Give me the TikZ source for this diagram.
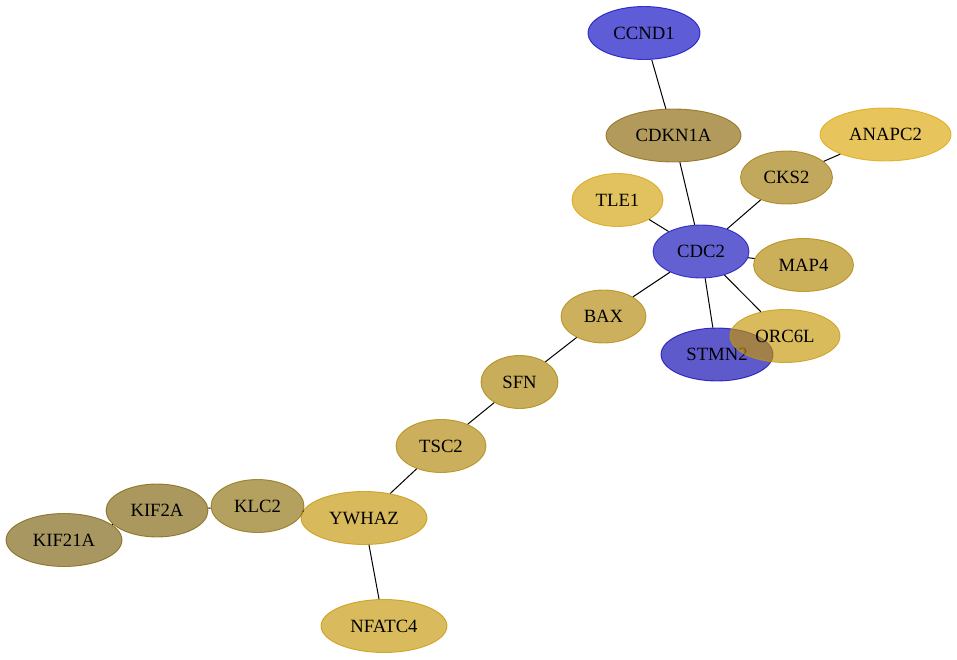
\documentclass[tikz,border=0pt]{standalone}
\usepackage{fontspec}
\setmainfont{Liberation Serif}
\usetikzlibrary{shapes.geometric}
\definecolor{ccnd}{RGB}{7,4,192}
\definecolor{cdc}{RGB}{16,13,186}
\definecolor{stmn}{RGB}{9,1,175}
\definecolor{cdkn}{RGB}{137,100,6}
\definecolor{anapc}{RGB}{220,164,4}
\definecolor{cks}{RGB}{160,121,6}
\definecolor{tle}{RGB}{210,161,9}
\definecolor{mapf}{RGB}{177,132,0}
\definecolor{orc}{RGB}{197,150,4}
\definecolor{bax}{RGB}{178,133,7}
\definecolor{sfn}{RGB}{170,129,1}
\definecolor{tsc}{RGB}{175,132,4}
\definecolor{ywhaz}{RGB}{195,147,4}
\definecolor{nfatc}{RGB}{197,149,4}
\definecolor{klc}{RGB}{140,109,9}
\definecolor{kifa}{RGB}{124,97,9}
\definecolor{kifb}{RGB}{121,95,10}
\begin{document}
\begin{tikzpicture}[x=1pt,y=-1pt]
  \tikzset{gene/.style 2 args={ellipse,inner sep=0pt,minimum height=53pt,minimum width=#2,
      fill=#1,draw=#1,fill opacity=0.65,draw opacity=0.75,text opacity=1,line width=0.9pt,
      font=\fontsize{18.7}{20}\selectfont}}
  \useasboundingbox (0,0) rectangle (957,660);
  \node[gene={ccnd}{112pt}] (CCND1) at (644,33) {CCND1};
  \node[gene={cdkn}{135pt}] (CDKN1A) at (673.5,135.5) {CDKN1A};
  \node[gene={anapc}{131pt}] (ANAPC2) at (885.5,134.5) {ANAPC2};
  \node[gene={cks}{92pt}] (CKS2) at (786.5,177.5) {CKS2};
  \node[gene={tle}{91pt}] (TLE1) at (617.5,200) {TLE1};
  \node[gene={cdc}{96pt}] (CDC2) at (701,251.5) {CDC2};
  \node[gene={mapf}{100pt}] (MAP4) at (803.5,265) {MAP4};
  \node[gene={stmn}{112pt}] (STMN2) at (717,354.5) {STMN2};
  \node[gene={orc}{110pt}] (ORC6L) at (785,336) {ORC6L};
  \node[gene={bax}{85pt}] (BAX) at (603.5,316.5) {BAX};
  \node[gene={sfn}{77pt}] (SFN) at (519.5,382) {SFN};
  \node[gene={tsc}{90pt}] (TSC2) at (441,446) {TSC2};
  \node[gene={ywhaz}{126pt}] (YWHAZ) at (364,518) {YWHAZ};
  \node[gene={nfatc}{126pt}] (NFATC4) at (384,626) {NFATC4};
  \node[gene={klc}{93pt}] (KLC2) at (257.5,506) {KLC2};
  \node[gene={kifa}{102pt}] (KIF2A) at (157,510.5) {KIF2A};
  \node[gene={kifb}{116pt}] (KIF21A) at (64,540) {KIF21A};
  % edges
  \foreach \a/\b in {CCND1/CDKN1A,CDKN1A/CDC2,ANAPC2/CKS2,CKS2/CDC2,TLE1/CDC2,CDC2/MAP4,
      CDC2/ORC6L,CDC2/STMN2,CDC2/BAX,BAX/SFN,SFN/TSC2,TSC2/YWHAZ,YWHAZ/NFATC4,
      KLC2/YWHAZ,KIF2A/KLC2,KIF21A/KIF2A}
    \draw[line width=1pt] (\a) -- (\b);
\end{tikzpicture}
\end{document}
